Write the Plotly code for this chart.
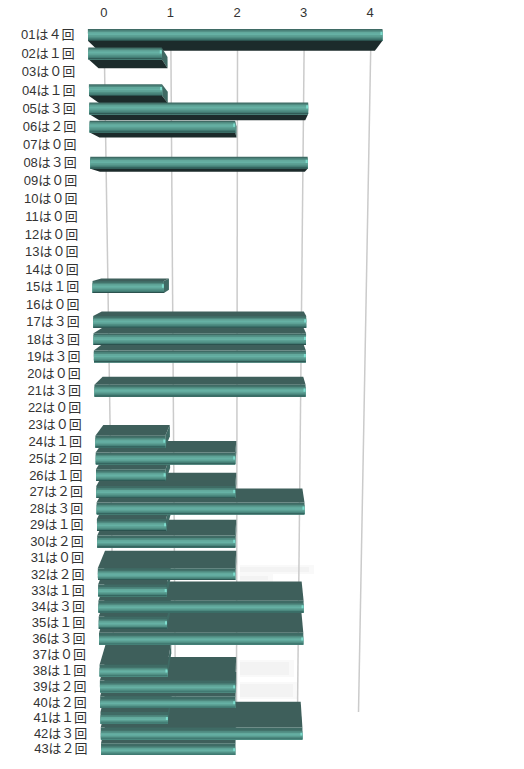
import plotly.graph_objects as go

VALUES = [4, 1, 0, 1, 3, 2, 0, 3, 0, 0, 0, 0, 0, 0, 1, 0, 3, 3, 3, 0, 3, 0,
          0, 1, 2, 1, 2, 3, 1, 2, 0, 2, 1, 3, 1, 3, 0, 1, 2, 2, 1, 3, 2]
ROWS = ["01", "02", "03", "04", "05", "06", "07", "08", "09", "10", "11",
        "12", "13", "14", "15", "16", "17", "18", "19", "20", "21", "22",
        "23", "24", "25", "26", "27", "28", "29", "30", "31", "32", "33",
        "34", "35", "36", "37", "38", "39", "40", "41", "42", "43"]
TICKS = [0, 1, 2, 3, 4]
FULL = "０１２３４"

# ---- perspective scale: (value, row, depth) -> page position ----
W, H = 524, 769
FONT = "Liberation Sans, Noto Sans CJK JP"
CX_FRONT, VP_X, VP_Y = 235.2, 259.0, 230.0
KY = 0.052


def row_y(r):
    return 35 + 18.5 * r - 0.0357 * r * r


def unit(y):
    return 73.6 - (y - 35) * 6.4 / 697


def kx(y):
    return 0.06 - (y - 35) * 0.02 / 700


def front(v, y):
    return CX_FRONT + (v - 2) * unit(y)


def back(x, y):
    """Move a front point to the back end of the bar."""
    return x + kx(y) * (VP_X - x), y + KY * (VP_Y - y)


def grid_x(v, y):
    cx = 237.5 - (y - 50) * 1.0 / 662
    return cx + (v - 2) * (66.6 - (y - 50) * 5.6 / 662)


fig = go.Figure()


def poly(xs, ys, color):
    fig.add_trace(go.Scatter(
        x=list(xs) + [xs[0]], y=list(ys) + [ys[0]], mode="lines",
        fill="toself", fillcolor=color, line=dict(width=0, color=color),
        hoverinfo="skip", showlegend=False))


# faint ghost smudges on the wall
shapes = []
for x0, y0, x1, y1 in [(240, 565, 314, 574), (240, 574, 273, 582),
                       (240, 660, 294, 677), (240, 682, 298, 699)]:
    shapes.append(dict(type="rect", xref="x", yref="y", x0=x0, x1=x1, y0=y0, y1=y1,
                       fillcolor="#f9f9f9", line=dict(width=0), layer="below"))
    shapes.append(dict(type="rect", xref="x", yref="y", x0=x0, x1=x1 - 5, y0=y0 + 2, y1=y1 - 2,
                       fillcolor="#f3f3f3", line=dict(width=0), layer="below"))

# gridlines
GRID_TOP, GRID_BOTTOM = 50, 712
for t in TICKS:
    fig.add_trace(go.Scatter(
        x=[grid_x(t, GRID_TOP), grid_x(t, GRID_BOTTOM)], y=[GRID_TOP, GRID_BOTTOM],
        mode="lines", line=dict(color="#cbcbcb", width=1.5),
        hoverinfo="skip", showlegend=False))

# bars
BAND_EDGES = [0, .10, .22, .36, .50, .64, .78, .90, 1]
BAND_COLORS = ["#3f6b65", "#4f8a80", "#62a99c", "#66b1a4", "#5ca195", "#4f8f84", "#417a72", "#2b524e"]
TOP_COLOR = "#3e5f5b"
BOTTOM_COLOR = "#1c2b2b"
SIDE_COLOR = "#3f6a64"
CAP_COLOR = "#7ddccd"
HALF = 5.9


def draw_bar(r, v):
    y = row_y(r)
    yt, yb = y - HALF, y + HALF
    x0t, x1t = front(0, yt), front(v, yt)
    x0b, x1b = front(0, yb), front(v, yb)
    b0t = back(x0t, yt)
    b1t = back(x1t, yt)
    b0b = back(x0b, yb)
    b1b = back(x1b, yb)
    # end face
    if b1t[0] > x1t:
        poly([x1t, x1b, b1b[0], b1t[0]], [yt, yb, b1b[1], b1t[1]], SIDE_COLOR)
    # top or underside
    if yt > VP_Y:
        poly([x0t, x1t, b1t[0], b0t[0]], [yt, yt, b1t[1], b0t[1]], TOP_COLOR)
    if yb < VP_Y:
        poly([x0b, x1b, b1b[0], b0b[0]], [yb, yb, b1b[1], b0b[1]], BOTTOM_COLOR)
    # rounded front, as shades painted over each other; the shine slides down the chart
    p = 1 - 0.45 * r / 42
    for i, c in enumerate(BAND_COLORS):
        y0 = yt + (yb - yt) * BAND_EDGES[i] ** p
        poly([front(0, y0), front(v, y0), front(v, yb), front(0, yb)], [y0, y0, yb, yb], c)
    # bright tip on the right end of the shine
    f0, f1 = BAND_EDGES[2] ** p, BAND_EDGES[4] ** p
    y0, y1 = yt + (yb - yt) * f0, yt + (yb - yt) * f1
    poly([front(v, y0) - 2, front(v, y0), front(v, y1), front(v, y1) - 2], [y0, y0, y1, y1], CAP_COLOR)


rows = [r for r in range(len(VALUES)) if VALUES[r] > 0]
upper = [r for r in rows if row_y(r) <= VP_Y]
lower = [r for r in rows if row_y(r) > VP_Y]
for r in upper + lower[::-1]:
    draw_bar(r, VALUES[r])

# row labels
label_y = [row_y(r) + 1.2 for r in range(len(ROWS))]
label_x = [front(0, y) - 13.5 for y in label_y]
label_text = [f"{n}は{FULL[v]}回" for n, v in zip(ROWS, VALUES)]
fig.add_trace(go.Scatter(
    x=label_x, y=label_y, mode="text", text=label_text, textposition="middle left",
    textfont=dict(family=FONT, size=13, color="#333333"),
    hoverinfo="skip", showlegend=False))

# value axis labels along the top
fig.add_trace(go.Scatter(
    x=[grid_x(t, 50) - 0.5 for t in TICKS], y=[14] * len(TICKS), mode="text",
    text=[str(t) for t in TICKS], textposition="middle center",
    textfont=dict(family=FONT, size=13, color="#333333"),
    hoverinfo="skip", showlegend=False))

fig.update_layout(
    width=W, height=H, margin=dict(l=0, r=0, t=0, b=0), showlegend=False,
    paper_bgcolor="white", plot_bgcolor="white", shapes=shapes,
    xaxis=dict(range=[0, W], visible=False, fixedrange=True),
    yaxis=dict(range=[H, 0], visible=False, fixedrange=True),
)
fig.write_html("out.html", config={"displayModeBar": False},
               post_script="document.body.style.margin='0';")
